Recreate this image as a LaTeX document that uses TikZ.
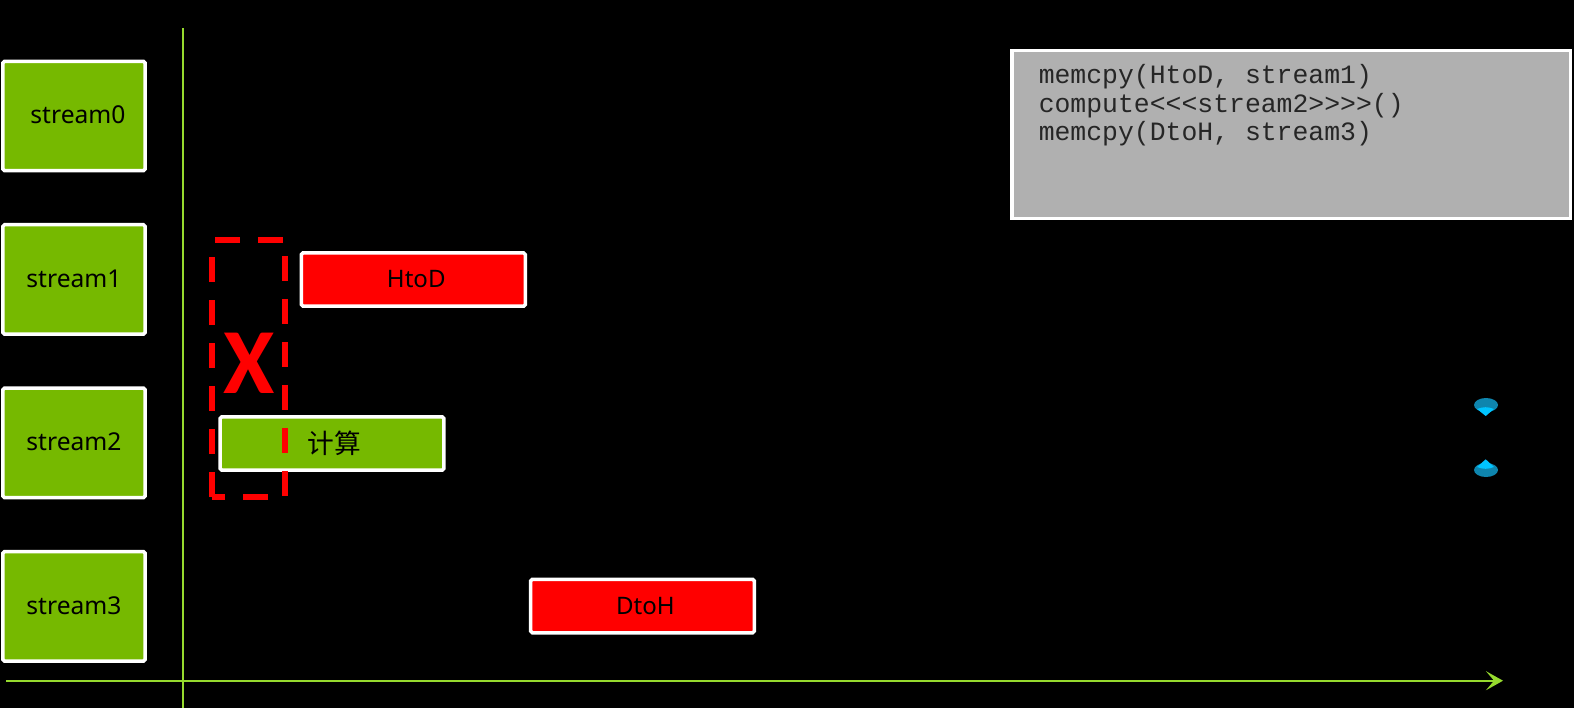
\documentclass[tikz,border=0pt]{standalone}
\usepackage{fontspec}
\setmainfont{Noto Sans}
\setmonofont{Liberation Mono}
\newfontfamily\cjk{Noto Sans CJK SC}
\newfontfamily\markfont{Carlito}
\usetikzlibrary{positioning,arrows.meta}
\definecolor{StreamGreen}{HTML}{76B900}
\definecolor{AxisGreen}{HTML}{96DA2E}
\definecolor{CodeGray}{HTML}{B0B0B0}
\definecolor{MarkDark}{HTML}{0E85AE}
\definecolor{MarkBright}{HTML}{00C4FF}

\begin{document}
\begin{tikzpicture}[x=0.02cm, y=-0.02cm, node distance=1.01cm, every node/.style={font=\fontsize{14}{16}\selectfont, text=black}]
        \tikzstyle{stream}=[draw=white, fill=StreamGreen, line width=0.07cm, rounded corners=1pt, minimum width=2.85cm, minimum height=2.19cm, inner sep=0pt, text depth=0.04cm]
        \tikzstyle{bar}=[draw=white, line width=0.07cm, rounded corners=1pt, minimum width=4.48cm, minimum height=1.07cm, inner sep=0pt, font=\fontsize{13.7}{16}\selectfont]
        \tikzstyle{axis}=[AxisGreen, line width=0.04cm]
        \fill[black] (0,0) rectangle (1574,708);
        % axes
        \coordinate (ytop) at (182.7,28);
        \coordinate (ybot) at (182.7,708);
        \coordinate (xleft) at (6,680.7);
        \coordinate (xright) at (1503,680.7);
        \draw[axis] (ytop) -- (ybot);
        \draw[axis, -{Stealth[length=0.34cm, width=0.38cm, inset=0.16cm]}] (xleft) -- (xright);
        % streams
        \node[stream] (s0) at (74,116) {\hspace{4.5pt}stream0};
        \node[stream, below=of s0] (s1) {stream1};
        \node[stream, below=of s1] (s2) {stream2};
        \node[stream, below=of s2] (s3) {stream3};
        % operations
        \node[bar, fill=red] (htod) at (413.3,279.5) {\hspace{3.4pt}HtoD};
        \node[bar, fill=StreamGreen] (comp) at (332,443.5) {\hspace{2.5pt}\cjk\fontsize{15.2}{16}\selectfont 计算};
        \node[bar, fill=red] (dtoh) at (642.5,606) {\hspace{3.4pt}DtoH};
        % dashed frame
        \draw[red, line width=0.11cm, dash pattern=on 0.5cm off 0.36cm, dash phase=0.8cm] (212,240) -- (285,240) -- (285,497) -- (212,497);
        \draw[red, line width=0.11cm, dash pattern=on 0.5cm off 0.36cm] (212,497) -- (212,240);
        \node[text=red, font=\markfont\fontsize{53}{53}\selectfont\bfseries, inner sep=0pt] (xmark) at (249,363) {X};
        % code
        \node[draw=white, fill=CodeGray, line width=0.07cm, anchor=north west, inner xsep=0.54cm, inner ysep=0pt, text=black!85, align=left, font=\ttfamily\fontsize{15.05}{16}\selectfont] (code) at (1010,49)
          {\parbox[c][3.36cm][t]{10.1cm}{\vspace{0.28cm}memcpy(HtoD, stream1)\\compute<{}<{}<stream2>{}>{}>{}>()\\memcpy(DtoH, stream3)}};
        % markers
        \fill[MarkDark] (1486,405) ellipse[x radius=12, y radius=7];
        \fill[MarkBright] (1477,409) .. controls (1483,406.6) and (1488,406.6) .. (1494,409) -- (1485.7,416) -- cycle;
        \fill[MarkDark] (1486,470) ellipse[x radius=12, y radius=7];
        \fill[MarkBright] (1477,467) .. controls (1483,469.4) and (1488,469.4) .. (1494,467) -- (1485.7,459.3) -- cycle;
      \end{tikzpicture}
\end{document}
